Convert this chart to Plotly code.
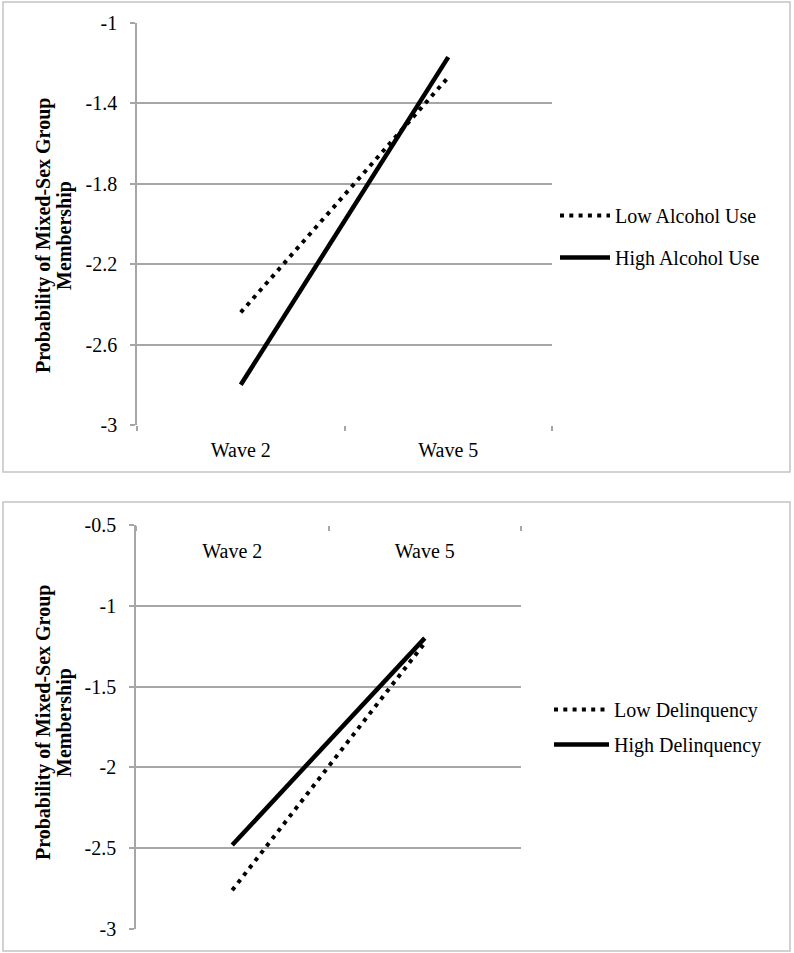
import plotly.graph_objects as go

# ---- data ----
waves = ["Wave 2", "Wave 5"]
low_alcohol = [-2.44, -1.27]
high_alcohol = [-2.80, -1.17]
low_delinquency = [-2.76, -1.23]
high_delinquency = [-2.48, -1.20]

top_yticks = [-3, -2.6, -2.2, -1.8, -1.4, -1]
top_yticktext = ["-3", "-2.6", "-2.2", "-1.8", "-1.4", "-1"]
bot_yticks = [-3, -2.5, -2, -1.5, -1, -0.5]
bot_yticktext = ["-3", "-2.5", "-2", "-1.5", "-1", "-0.5"]

ytitle_lines = ["Probability of Mixed-Sex Group", "Membership"]

W, H = 794, 953
FONT = "Liberation Serif"
GRID = "#a6a6a6"
BORDER = "#c4c4c4"
DOT = "4px,5.3px"


def px_x(p):
    return p / W


def px_y(p):
    return 1 - p / H


fig = go.Figure()

fig.add_trace(go.Scatter(x=waves, y=low_alcohol, mode="lines", name="Low Alcohol Use",
                         line=dict(color="black", width=4, dash=DOT),
                         xaxis="x", yaxis="y", legend="legend", legendgroup="a1"))
fig.add_trace(go.Scatter(x=waves, y=high_alcohol, mode="lines", name="High Alcohol Use",
                         line=dict(color="black", width=4.5),
                         xaxis="x", yaxis="y", legend="legend", legendgroup="a2"))
fig.add_trace(go.Scatter(x=waves, y=low_delinquency, mode="lines", name="Low Delinquency",
                         line=dict(color="black", width=4, dash=DOT),
                         xaxis="x2", yaxis="y2", legend="legend2", legendgroup="b1"))
fig.add_trace(go.Scatter(x=waves, y=high_delinquency, mode="lines", name="High Delinquency",
                         line=dict(color="black", width=4.5),
                         xaxis="x2", yaxis="y2", legend="legend2", legendgroup="b2"))

tickfont = dict(family=FONT, size=20, color="black")

annotations = []
for yc in (236, 723):
    for xc, line in zip((43, 64), ytitle_lines):
        annotations.append(dict(
            text="<b>" + line + "</b>", xref="paper", yref="paper",
            x=px_x(xc), y=px_y(yc), xanchor="center", yanchor="middle",
            textangle=-90, showarrow=False,
            font=dict(family=FONT, size=20, color="black")))

fig.update_layout(
    template="none",
    width=W, height=H,
    margin=dict(l=0, r=0, t=0, b=0, pad=0, autoexpand=False),
    paper_bgcolor="white", plot_bgcolor="white",
    font=dict(family=FONT, size=20, color="black"),
    xaxis=dict(domain=[px_x(137), px_x(552)], anchor="y", type="category",
               range=[-0.5, 1.5], automargin=False,
               tickson="boundaries", ticks="outside", ticklen=5, tickcolor=GRID,
               tickwidth=1.5, showline=False, showgrid=False, tickfont=tickfont,
               zeroline=False, ticklabelstandoff=11),
    yaxis=dict(domain=[px_y(425), px_y(23)], anchor="x", range=[-3, -1],
               automargin=False,
               tickvals=top_yticks, ticktext=top_yticktext,
               ticks="outside", ticklen=5, tickcolor=GRID, tickwidth=1.5,
               showline=True, linecolor=GRID, linewidth=1.5,
               showgrid=True, gridcolor=GRID, gridwidth=1.5, zeroline=False,
               tickfont=tickfont, ticklabelstandoff=9),
    xaxis2=dict(domain=[px_x(136), px_x(521)], anchor="free", position=px_y(525),
                side="bottom", type="category",
                range=[-0.5, 1.5], automargin=False,
                tickson="boundaries", ticks="outside", ticklen=5, tickcolor=GRID,
                tickwidth=1.5, showline=False, showgrid=False, tickfont=tickfont,
                zeroline=False, ticklabelstandoff=12),
    yaxis2=dict(domain=[px_y(929), px_y(525)], anchor="x2", range=[-3, -0.5],
                automargin=False,
                tickvals=bot_yticks, ticktext=bot_yticktext,
                ticks="outside", ticklen=5, tickcolor=GRID, tickwidth=1.5,
                showline=True, linecolor=GRID, linewidth=1.5,
                showgrid=True, gridcolor=GRID, gridwidth=1.5, zeroline=False,
                tickfont=tickfont, ticklabelstandoff=9),
    legend=dict(x=px_x(555), y=px_y(196), xanchor="left", yanchor="top",
                font=dict(family=FONT, size=20), traceorder="grouped",
                tracegroupgap=13, itemwidth=50, bgcolor="rgba(0,0,0,0)"),
    legend2=dict(x=px_x(549), y=px_y(690), xanchor="left", yanchor="top",
                 font=dict(family=FONT, size=20), traceorder="grouped",
                 tracegroupgap=6, itemwidth=55, bgcolor="rgba(0,0,0,0)"),
    shapes=[
        dict(type="rect", xref="paper", yref="paper",
             x0=px_x(3), x1=px_x(790), y0=px_y(472), y1=px_y(2),
             line=dict(color=BORDER, width=1.5), layer="below"),
        dict(type="rect", xref="paper", yref="paper",
             x0=px_x(3), x1=px_x(790), y0=px_y(951), y1=px_y(502),
             line=dict(color=BORDER, width=1.5), layer="below"),
    ],
    annotations=annotations,
)

fig.write_html("out.html", config={"displayModeBar": False},
               post_script="document.body.style.margin='0';")
